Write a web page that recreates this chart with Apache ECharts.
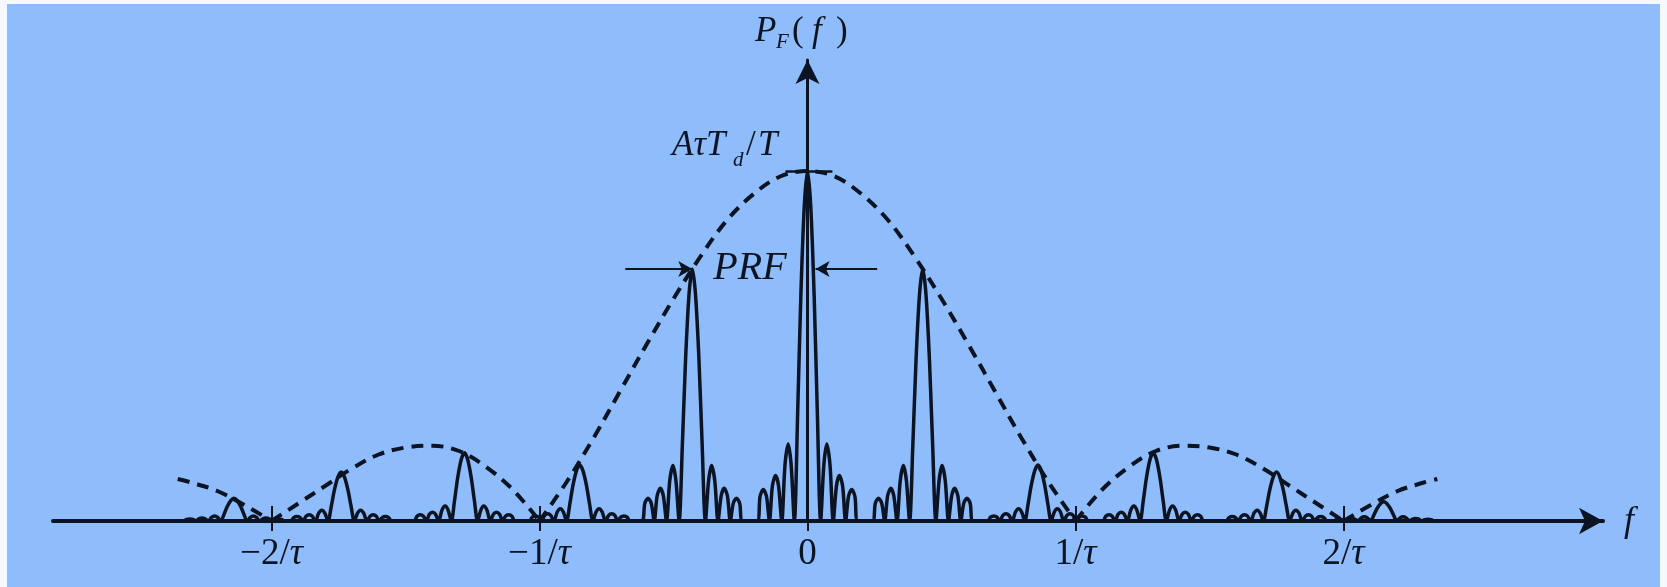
<!DOCTYPE html>
<html>
<head>
<meta charset="utf-8">
<script src="https://cdn.jsdelivr.net/npm/echarts@6/dist/echarts.min.js"></script>
<style>
  html, body { margin: 0; padding: 0; background: #f5f9fe; }
  #chart { width: 1667px; height: 587px; }
</style>
</head>
<body>
<div id="chart"></div>
<script>
// Spectral lines: centre frequency (units of 1/τ) and peak height (units of AτT_d/T)
const lineFreq   = [-2.14, -1.74, -1.28, -0.85, -0.43, 0, 0.43, 0.86, 1.29, 1.75, 2.15];
const lineHeight = [0.065, 0.14, 0.195, 0.16, 0.72, 1.0, 0.72, 0.16, 0.195, 0.14, 0.055];

// Shape of a single line: offset from its centre and relative amplitude (main lobe + 3 side lobes)
const lobeOffset = [-0.188, -0.177, -0.165, -0.153, -0.142, -0.131, -0.119, -0.108, -0.096,
                    -0.084, -0.072, -0.061, -0.049, -0.037, -0.025, -0.012, 0,
                    0.012, 0.025, 0.037, 0.049, 0.061, 0.072, 0.084, 0.096,
                    0.108, 0.119, 0.131, 0.142, 0.153, 0.165, 0.177, 0.188];
const lobeLevel  = [0, 0.07, 0.09, 0.07, 0, 0.10, 0.13, 0.10, 0,
                    0.16, 0.22, 0.16, 0, 0.30, 0.64, 0.90, 1,
                    0.90, 0.64, 0.30, 0, 0.16, 0.22, 0.16, 0,
                    0.10, 0.13, 0.10, 0, 0.07, 0.09, 0.07, 0];

// Where the drawn spectrum begins and ends on the f axis
const spectrumStart = -2.31;
const spectrumEnd = 2.34;

// Dashed envelope
const envF = [-2.35, -2.3, -2.2, -2.1, -2.0, -1.9, -1.8, -1.7, -1.6, -1.5, -1.4, -1.3, -1.2, -1.1, -1.0,
              -0.9, -0.8, -0.7, -0.6, -0.5, -0.4, -0.3, -0.2, -0.1, 0,
              0.1, 0.2, 0.3, 0.4, 0.5, 0.6, 0.7, 0.8, 0.9, 1.0,
              1.1, 1.2, 1.3, 1.4, 1.5, 1.6, 1.7, 1.8, 1.9, 2.0, 2.1, 2.2, 2.3, 2.35];
const envY = [0.12, 0.11, 0.085, 0.045, 0, 0.05, 0.10, 0.15, 0.19, 0.21, 0.215, 0.20, 0.155, 0.09, 0,
              0.11, 0.235, 0.37, 0.505, 0.635, 0.755, 0.86, 0.935, 0.985, 1.0,
              0.985, 0.935, 0.86, 0.755, 0.635, 0.505, 0.37, 0.235, 0.11, 0,
              0.09, 0.155, 0.20, 0.215, 0.21, 0.19, 0.15, 0.10, 0.05, 0, 0.045, 0.085, 0.11, 0.12];

// f-axis ticks and their labels
const tickValues = [-2, -1, 0, 1, 2];
const tickLabels = ['−2/τ', '−1/τ', '0', '1/τ', '2/τ'];

// PRF spacing marker and the peak-level mark
const prfLevel = 0.72;
const prfLeftArrow = [-0.68, -0.43];
const prfRightArrow = [0.26, 0.03];
const peakMark = [-0.082, 0.093];

const INK = '#0c1322';
const SERIF = '"Liberation Serif", "DejaVu Serif", serif';

// Spectrum polyline assembled from the line list and the line shape
const spectrum = [[spectrumStart, 0]];
lineFreq.forEach((f, i) => {
  lobeOffset.forEach((d, j) => spectrum.push([f + d, lineHeight[i] * lobeLevel[j]]));
});
spectrum.push([spectrumEnd, 0]);

// Envelope split at its zeros so each arch keeps a sharp V at the axis
const envSegments = [];
let seg = [];
envF.forEach((f, i) => {
  seg.push([f, envY[i]]);
  if (envY[i] === 0 && seg.length > 1) { envSegments.push(seg); seg = [[f, 0]]; }
});
if (seg.length > 1) envSegments.push(seg);

const envSeries = envSegments.map(d => ({
  type: 'line', data: d, smooth: 0.35, symbol: 'none', silent: true, z: 3,
  lineStyle: { color: INK, width: 4, type: [12, 8], cap: 'butt' }
}));

const chart = echarts.init(document.getElementById('chart'), null, { renderer: 'canvas' });

const ORIGIN_X = 807.5, UNIT_X = 268;
const X_MIN = (53 - ORIGIN_X) / UNIT_X;
const X_MAX = (1603 - ORIGIN_X) / UNIT_X;

chart.setOption({
  animation: false,
  backgroundColor: 'transparent',
  grid: { left: 53, right: 64, top: 60, bottom: 66 },
  xAxis: [{
    type: 'value', min: X_MIN, max: X_MAX,
    axisLine: { show: true, onZero: true, symbol: ['none', 'arrow'], symbolSize: [20, 24],
                lineStyle: { color: INK, width: 4 } },
    axisTick: { show: true, inside: false, length: 10, customValues: tickValues,
                lineStyle: { color: INK, width: 2 } },
    axisLabel: {
      show: true, customValues: tickValues, margin: 15,
      formatter: v => {
        const i = tickValues.indexOf(v);
        if (i < 0) return '';
        const s = tickLabels[i];
        return s.indexOf('τ') >= 0 ? '{n|' + s.replace('τ', '') + '}{t|τ}' : '{n|' + s + '}';
      },
      rich: {
        n: { fontFamily: SERIF, fontSize: 37, color: INK },
        t: { fontFamily: SERIF, fontSize: 37, fontStyle: 'italic', color: INK }
      }
    },
    splitLine: { show: false }
  }, {
    type: 'value', min: X_MIN, max: X_MAX, position: 'bottom',
    axisLine: { show: false },
    axisTick: { show: true, inside: true, length: 15, customValues: [-2, -1, 1, 2],
                lineStyle: { color: INK, width: 2 } },
    axisLabel: { show: false },
    splitLine: { show: false }
  }],
  yAxis: {
    type: 'value', min: 0, max: 461 / 350,
    axisLine: { show: true, onZero: true, symbol: ['none', 'arrow'], symbolSize: [18, 24],
                lineStyle: { color: INK, width: 3 } },
    axisTick: { show: false },
    axisLabel: { show: false },
    splitLine: { show: false }
  },
  series: [{
    type: 'line', data: spectrum, smooth: 0.3, symbol: 'none', silent: true, z: 4,
    lineStyle: { color: INK, width: 3.5, join: 'round' },
    markLine: {
      silent: true, animation: false,
      label: { show: false },
      data: [
        [{ coord: [peakMark[0], 1], symbol: 'none', lineStyle: { width: 2.5 } },
         { coord: [peakMark[1], 1], symbol: 'none' }],
        [{ coord: [prfLeftArrow[0], prfLevel], symbol: 'none' },
         { coord: [prfLeftArrow[1], prfLevel], symbol: 'arrow', symbolSize: [12, 14] }],
        [{ coord: [prfRightArrow[0], prfLevel], symbol: 'none' },
         { coord: [prfRightArrow[1], prfLevel], symbol: 'arrow', symbolSize: [12, 14] }]
      ],
      lineStyle: { color: INK, width: 2, type: 'solid' }
    }
  }].concat(envSeries),
  graphic: [
    { type: 'rect', z: -100, silent: true, shape: { x: 7, y: 4, width: 1653, height: 583 },
      style: { fill: '#8fbdfb' } },
    // y-axis name P_F(f)
    { type: 'text', x: 755, y: 32, silent: true,
      style: { text: 'P', font: 'italic 35px ' + SERIF, fill: INK, verticalAlign: 'middle' } },
    { type: 'text', x: 776, y: 42, silent: true,
      style: { text: 'F', font: 'italic 21px ' + SERIF, fill: INK, verticalAlign: 'middle' } },
    { type: 'text', x: 792, y: 32, silent: true,
      style: { text: '(', font: '35px ' + SERIF, fill: INK, verticalAlign: 'middle' } },
    { type: 'text', x: 812, y: 32, silent: true,
      style: { text: 'f', font: 'italic 35px ' + SERIF, fill: INK, verticalAlign: 'middle' } },
    { type: 'text', x: 836, y: 32, silent: true,
      style: { text: ')', font: '35px ' + SERIF, fill: INK, verticalAlign: 'middle' } },
    // peak level AτT_d/T
    { type: 'text', x: 672, y: 146, silent: true,
      style: { text: 'AτT', font: 'italic 35px ' + SERIF, fill: INK, verticalAlign: 'middle' } },
    { type: 'text', x: 733, y: 160, silent: true,
      style: { text: 'd', font: 'italic 21px ' + SERIF, fill: INK, verticalAlign: 'middle' } },
    { type: 'text', x: 746, y: 146, silent: true,
      style: { text: '/', font: '35px ' + SERIF, fill: INK, verticalAlign: 'middle' } },
    { type: 'text', x: 758, y: 146, silent: true,
      style: { text: 'T', font: 'italic 35px ' + SERIF, fill: INK, verticalAlign: 'middle' } },
    // PRF
    { type: 'text', x: 750, y: 268, silent: true,
      style: { text: 'PRF', font: 'italic 40px ' + SERIF, fill: INK, align: 'center', verticalAlign: 'middle' } },
    // x-axis name
    { type: 'text', x: 1629, y: 522, silent: true,
      style: { text: 'f', font: 'italic 36px ' + SERIF, fill: INK, align: 'center', verticalAlign: 'middle' } }
  ]
});
</script>
</body>
</html>
